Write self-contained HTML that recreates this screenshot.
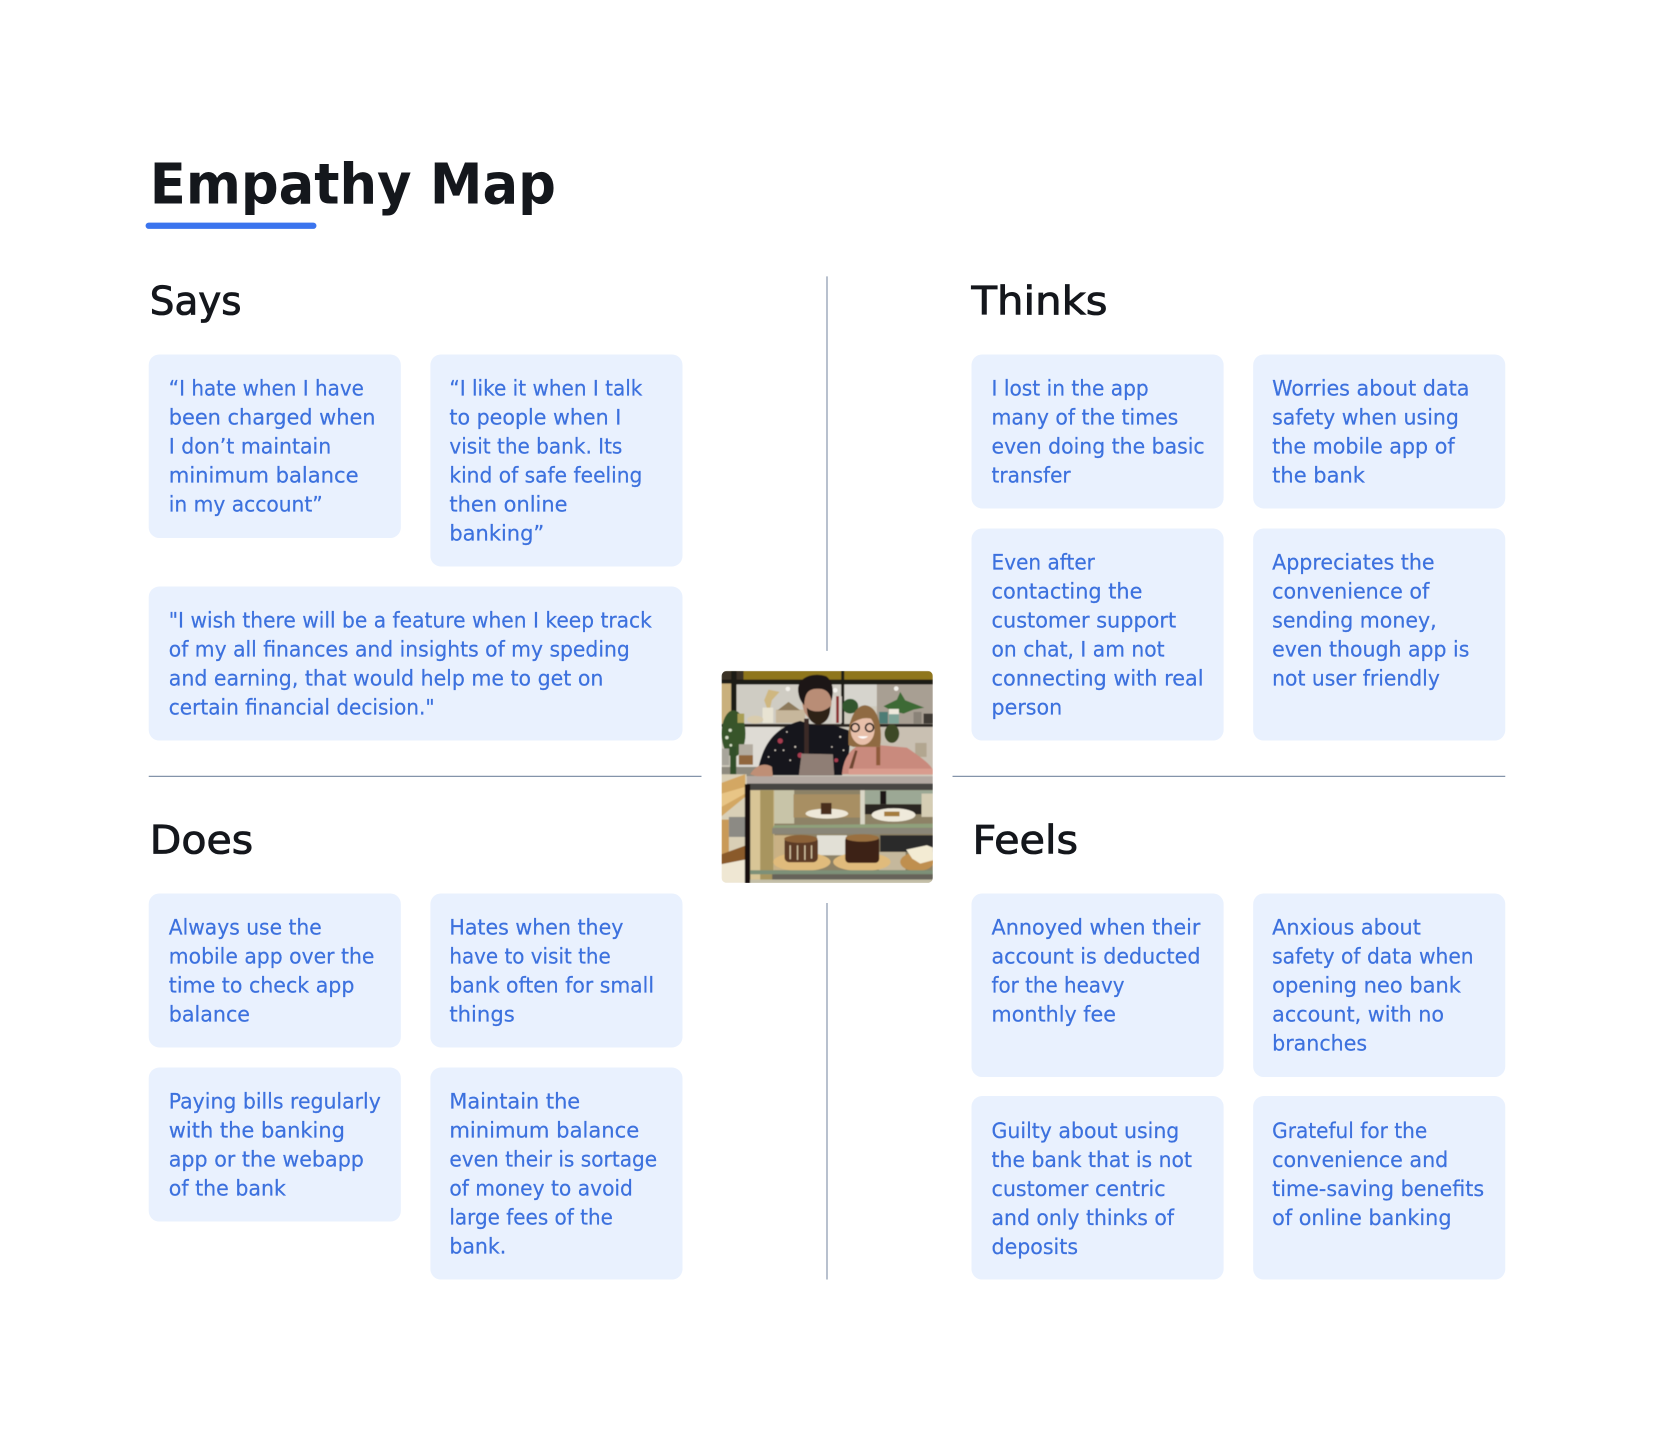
<!DOCTYPE html>
<html><head><meta charset="utf-8"><title>Empathy Map</title>
<style>
html,body{margin:0;padding:0;background:#fff;width:1654px;height:1430px;overflow:hidden}
svg.m{display:block;width:1654px;height:1430px}
.b text{font-family:"DejaVu Sans","Liberation Sans",sans-serif;font-size:20px;fill:#3c71de;stroke:#3c71de;stroke-width:.2}
.h{font-family:"DejaVu Sans","Liberation Sans",sans-serif;font-size:37px;fill:#14171c;stroke:#14171c;stroke-width:.8}
.t{font-family:"DejaVu Sans","Liberation Sans",sans-serif;font-size:53px;font-weight:700;fill:#14171c}
.c rect{fill:#e9f1fe}
</style></head><body>
<svg class="m" viewBox="0 0 1568 1355.6" xmlns="http://www.w3.org/2000/svg">
<defs>
<clipPath id="pc"><rect x="64" y="62" width="634" height="636" rx="16"/></clipPath>
<filter id="bl"><feGaussianBlur stdDeviation="1.6"/></filter>
</defs>
<rect width="1568" height="1356" fill="#fff"/>
<text class="t" x="142" y="193" textLength="385" lengthAdjust="spacingAndGlyphs">Empathy Map</text>
<rect x="138" y="211" width="162" height="6" rx="3" fill="#3b74ee"/>
<text class="h" x="142" y="298" textLength="87" lengthAdjust="spacingAndGlyphs">Says</text>
<text class="h" x="921" y="298" textLength="129" lengthAdjust="spacingAndGlyphs">Thinks</text>
<text class="h" x="142" y="809" textLength="98" lengthAdjust="spacingAndGlyphs">Does</text>
<text class="h" x="922" y="809" textLength="100" lengthAdjust="spacingAndGlyphs">Feels</text>
<g stroke="#8494aa" stroke-width="1.1">
<line x1="784" y1="262" x2="784" y2="617"/><line x1="784" y1="856" x2="784" y2="1213"/>
<line x1="141" y1="736" x2="665" y2="736"/><line x1="903" y1="736" x2="1427" y2="736"/>
</g>
<g class="c">
<rect x="141" y="336" width="239" height="174" rx="10"/>
<rect x="408" y="336" width="239" height="201" rx="10"/>
<rect x="141" y="556" width="506" height="146" rx="10"/>
<rect x="921" y="336" width="239" height="146" rx="10"/>
<rect x="1188" y="336" width="239" height="146" rx="10"/>
<rect x="921" y="501" width="239" height="201" rx="10"/>
<rect x="1188" y="501" width="239" height="201" rx="10"/>
<rect x="141" y="847" width="239" height="146" rx="10"/>
<rect x="408" y="847" width="239" height="146" rx="10"/>
<rect x="141" y="1012" width="239" height="146" rx="10"/>
<rect x="408" y="1012" width="239" height="201" rx="10"/>
<rect x="921" y="847" width="239" height="174" rx="10"/>
<rect x="1188" y="847" width="239" height="174" rx="10"/>
<rect x="921" y="1039" width="239" height="174" rx="10"/>
<rect x="1188" y="1039" width="239" height="174" rx="10"/>
</g>
<g class="b">
<text x="160" y="375" textLength="185" lengthAdjust="spacingAndGlyphs">“I hate when I have</text>
<text x="160" y="402.5" textLength="196" lengthAdjust="spacingAndGlyphs">been charged when</text>
<text x="160" y="430" textLength="154" lengthAdjust="spacingAndGlyphs">I don’t maintain</text>
<text x="160" y="457.5" textLength="180" lengthAdjust="spacingAndGlyphs">minimum balance</text>
<text x="160" y="485" textLength="146" lengthAdjust="spacingAndGlyphs">in my account”</text>

<text x="426" y="375" textLength="183" lengthAdjust="spacingAndGlyphs">“I like it when I talk</text>
<text x="426" y="402.5" textLength="163" lengthAdjust="spacingAndGlyphs">to people when I</text>
<text x="426" y="430" textLength="164" lengthAdjust="spacingAndGlyphs">visit the bank. Its</text>
<text x="426" y="457.5" textLength="183" lengthAdjust="spacingAndGlyphs">kind of safe feeling</text>
<text x="426" y="485" textLength="112" lengthAdjust="spacingAndGlyphs">then online</text>
<text x="426" y="512.5" textLength="90" lengthAdjust="spacingAndGlyphs">banking”</text>

<text x="160" y="595" textLength="458" lengthAdjust="spacingAndGlyphs">"I wish there will be a feature when I keep track</text>
<text x="160" y="622.5" textLength="437" lengthAdjust="spacingAndGlyphs">of my all finances and insights of my speding</text>
<text x="160" y="650" textLength="412" lengthAdjust="spacingAndGlyphs">and earning, that would help me to get on</text>
<text x="160" y="677.5" textLength="252" lengthAdjust="spacingAndGlyphs">certain financial decision."</text>

<text x="940" y="375" textLength="149" lengthAdjust="spacingAndGlyphs">I lost in the app</text>
<text x="940" y="402.5" textLength="177" lengthAdjust="spacingAndGlyphs">many of the times</text>
<text x="940" y="430" textLength="202" lengthAdjust="spacingAndGlyphs">even doing the basic</text>
<text x="940" y="457.5" textLength="75" lengthAdjust="spacingAndGlyphs">transfer</text>

<text x="1206" y="375" textLength="187" lengthAdjust="spacingAndGlyphs">Worries about data</text>
<text x="1206" y="402.5" textLength="177" lengthAdjust="spacingAndGlyphs">safety when using</text>
<text x="1206" y="430" textLength="173" lengthAdjust="spacingAndGlyphs">the mobile app of</text>
<text x="1206" y="457.5" textLength="88" lengthAdjust="spacingAndGlyphs">the bank</text>

<text x="940" y="540" textLength="98" lengthAdjust="spacingAndGlyphs">Even after</text>
<text x="940" y="567.5" textLength="143" lengthAdjust="spacingAndGlyphs">contacting the</text>
<text x="940" y="595" textLength="175" lengthAdjust="spacingAndGlyphs">customer support</text>
<text x="940" y="622.5" textLength="164" lengthAdjust="spacingAndGlyphs">on chat, I am not</text>
<text x="940" y="650" textLength="201" lengthAdjust="spacingAndGlyphs">connecting with real</text>
<text x="940" y="677.5" textLength="67" lengthAdjust="spacingAndGlyphs">person</text>

<text x="1206" y="540" textLength="154" lengthAdjust="spacingAndGlyphs">Appreciates the</text>
<text x="1206" y="567.5" textLength="149" lengthAdjust="spacingAndGlyphs">convenience of</text>
<text x="1206" y="595" textLength="156" lengthAdjust="spacingAndGlyphs">sending money,</text>
<text x="1206" y="622.5" textLength="187" lengthAdjust="spacingAndGlyphs">even though app is</text>
<text x="1206" y="650" textLength="159" lengthAdjust="spacingAndGlyphs">not user friendly</text>

<text x="160" y="886" textLength="145" lengthAdjust="spacingAndGlyphs">Always use the</text>
<text x="160" y="913.5" textLength="195" lengthAdjust="spacingAndGlyphs">mobile app over the</text>
<text x="160" y="941" textLength="176" lengthAdjust="spacingAndGlyphs">time to check app</text>
<text x="160" y="968.5" textLength="77" lengthAdjust="spacingAndGlyphs">balance</text>

<text x="426" y="886" textLength="165" lengthAdjust="spacingAndGlyphs">Hates when they</text>
<text x="426" y="913.5" textLength="153" lengthAdjust="spacingAndGlyphs">have to visit the</text>
<text x="426" y="941" textLength="194" lengthAdjust="spacingAndGlyphs">bank often for small</text>
<text x="426" y="968.5" textLength="62" lengthAdjust="spacingAndGlyphs">things</text>

<text x="160" y="1051" textLength="201" lengthAdjust="spacingAndGlyphs">Paying bills regularly</text>
<text x="160" y="1078.5" textLength="167" lengthAdjust="spacingAndGlyphs">with the banking</text>
<text x="160" y="1106" textLength="185" lengthAdjust="spacingAndGlyphs">app or the webapp</text>
<text x="160" y="1133.5" textLength="111" lengthAdjust="spacingAndGlyphs">of the bank</text>

<text x="426" y="1051" textLength="124" lengthAdjust="spacingAndGlyphs">Maintain the</text>
<text x="426" y="1078.5" textLength="180" lengthAdjust="spacingAndGlyphs">minimum balance</text>
<text x="426" y="1106" textLength="197" lengthAdjust="spacingAndGlyphs">even their is sortage</text>
<text x="426" y="1133.5" textLength="174" lengthAdjust="spacingAndGlyphs">of money to avoid</text>
<text x="426" y="1161" textLength="155" lengthAdjust="spacingAndGlyphs">large fees of the</text>
<text x="426" y="1188.5" textLength="54" lengthAdjust="spacingAndGlyphs">bank.</text>

<text x="940" y="886" textLength="198" lengthAdjust="spacingAndGlyphs">Annoyed when their</text>
<text x="940" y="913.5" textLength="198" lengthAdjust="spacingAndGlyphs">account is deducted</text>
<text x="940" y="941" textLength="126" lengthAdjust="spacingAndGlyphs">for the heavy</text>
<text x="940" y="968.5" textLength="118" lengthAdjust="spacingAndGlyphs">monthly fee</text>

<text x="1206" y="886" textLength="141" lengthAdjust="spacingAndGlyphs">Anxious about</text>
<text x="1206" y="913.5" textLength="191" lengthAdjust="spacingAndGlyphs">safety of data when</text>
<text x="1206" y="941" textLength="179" lengthAdjust="spacingAndGlyphs">opening neo bank</text>
<text x="1206" y="968.5" textLength="163" lengthAdjust="spacingAndGlyphs">account, with no</text>
<text x="1206" y="996" textLength="90" lengthAdjust="spacingAndGlyphs">branches</text>

<text x="940" y="1079" textLength="178" lengthAdjust="spacingAndGlyphs">Guilty about using</text>
<text x="940" y="1106.5" textLength="190" lengthAdjust="spacingAndGlyphs">the bank that is not</text>
<text x="940" y="1134" textLength="165" lengthAdjust="spacingAndGlyphs">customer centric</text>
<text x="940" y="1161.5" textLength="173" lengthAdjust="spacingAndGlyphs">and only thinks of</text>
<text x="940" y="1189" textLength="82" lengthAdjust="spacingAndGlyphs">deposits</text>

<text x="1206" y="1079" textLength="147" lengthAdjust="spacingAndGlyphs">Grateful for the</text>
<text x="1206" y="1106.5" textLength="167" lengthAdjust="spacingAndGlyphs">convenience and</text>
<text x="1206" y="1134" textLength="201" lengthAdjust="spacingAndGlyphs">time-saving benefits</text>
<text x="1206" y="1161.5" textLength="170" lengthAdjust="spacingAndGlyphs">of online banking</text>
</g>
<svg x="683.7" y="636" width="201" height="201" viewBox="64 62 634 636">
<g clip-path="url(#pc)"><g filter="url(#bl)">
<rect x="64" y="62" width="634" height="636" fill="#cfcabd"/>
<rect x="64" y="62" width="634" height="28" fill="#8f761f"/>
<rect x="64" y="62" width="66" height="28" fill="#3a3026"/>
<rect x="64" y="88" width="634" height="15" fill="#1f1b18"/>
<rect x="110" y="103" width="320" height="118" fill="#cfccc3"/>
<rect x="430" y="103" width="100" height="65" fill="#d6d4cd"/>
<rect x="530" y="103" width="168" height="118" fill="#a89f93"/>
<rect x="64" y="100" width="30" height="120" fill="#c9b07c"/>
<rect x="93" y="62" width="16" height="170" fill="#1e1a17"/>
<rect x="423" y="62" width="9" height="165" fill="#1e1a17"/>
<circle cx="263" cy="116" r="7" fill="#f4f2ec"/><circle cx="588" cy="115" r="7" fill="#f4f2ec"/><circle cx="405" cy="120" r="7" fill="#f4f2ec"/>
<rect x="64" y="221" width="634" height="9" fill="#2b2521"/>
<rect x="110" y="230" width="130" height="125" fill="#dedbd4"/>
<rect x="540" y="230" width="158" height="125" fill="#c9c0b2"/>
<rect x="64" y="350" width="130" height="28" fill="#8e8a7e"/>
<path d="M550 168 L590 148 L600 125 L615 150 L672 172 L640 178 L610 190 L575 182 Z" fill="#3c6a35"/>
<ellipse cx="450" cy="168" rx="24" ry="22" fill="#33572e"/>
<ellipse cx="575" cy="250" rx="22" ry="28" fill="#3c4a28"/>
<ellipse cx="100" cy="250" rx="36" ry="70" fill="#38552a"/>
<rect x="90" y="290" width="18" height="95" fill="#33502a"/>
<g fill="#d7e0c8"><circle cx="90" cy="240" r="5"/><circle cx="80" cy="262" r="5"/><circle cx="92" cy="285" r="4"/></g>
<rect x="112" y="190" width="20" height="28" fill="#a99f56"/>
<rect x="227" y="178" width="88" height="40" fill="#c7b79c"/>
<path d="M232 180 L265 155 L300 180 Z" fill="#8d7a5c"/>
<rect x="187" y="172" width="32" height="46" fill="#e8e3d2"/>
<path d="M192 150 L205 118 L238 125 L215 150 L210 172 L200 172 Z" fill="#cfb780"/>
<ellipse cx="165" cy="208" rx="24" ry="12" fill="#d9ccae"/>
<rect x="395" y="138" width="30" height="80" fill="#d8d0c8"/><rect x="408" y="138" width="8" height="80" fill="#8a3330"/>
<rect x="537" y="185" width="26" height="35" fill="#4e7b75"/>
<rect x="566" y="180" width="30" height="40" fill="#7fa598"/><rect x="566" y="176" width="30" height="16" fill="#eee9dc"/>
<rect x="640" y="185" width="24" height="35" fill="#8a8378"/><rect x="670" y="190" width="28" height="30" fill="#3f3a36"/>
<rect x="116" y="282" width="42" height="62" fill="#b3aca0"/><rect x="116" y="315" width="42" height="28" fill="#90663d"/>
<rect x="645" y="278" width="34" height="42" fill="#b2a690"/>
<rect x="65" y="295" width="22" height="50" fill="#a8a59b"/>
<path d="M170 375 C185 290 215 235 300 212 L340 225 L400 225 L445 240 C455 300 440 350 425 375 Z" fill="#16151a"/>
<g fill="#a83d50"><circle cx="240" cy="272" r="8"/><circle cx="300" cy="315" r="8"/><circle cx="408" cy="330" r="6"/></g>
<g fill="#d8d0c4"><circle cx="260" cy="245" r="2.5"/><circle cx="225" cy="300" r="2.5"/><circle cx="285" cy="290" r="3"/><circle cx="270" cy="330" r="2.5"/><circle cx="420" cy="260" r="3"/><circle cx="395" cy="290" r="2.5"/><circle cx="430" cy="300" r="2.5"/><circle cx="205" cy="320" r="2.5"/><circle cx="250" cy="300" r="2.5"/></g>
<rect x="312" y="205" width="14" height="110" fill="#3a2c28"/>
<path d="M304 310 L398 312 L402 375 L296 375 Z" fill="#8f7e75"/>
<ellipse cx="350" cy="152" rx="44" ry="62" fill="#b98d76"/>
<path d="M294 125 C288 80 340 65 378 78 C402 95 400 130 394 152 C388 120 370 114 345 116 C325 118 314 128 312 165 C300 152 296 140 294 125 Z" fill="#1e1613"/>
<path d="M320 172 C335 188 372 188 390 168 C392 205 372 222 355 222 C336 222 320 205 320 172 Z" fill="#2f2019"/>
<path d="M425 372 C430 320 455 292 480 285 L540 285 L620 292 C660 320 690 340 698 360 L698 372 Z" fill="#c98a7d"/>
<path d="M445 285 C440 200 470 165 495 165 C530 168 548 220 540 290 L520 290 L460 290 Z" fill="#8f6b42"/>
<ellipse cx="487" cy="238" rx="36" ry="46" fill="#e8c0aa"/>
<path d="M448 225 C452 185 515 172 530 218 C515 198 480 198 448 225 Z" fill="#8f6b42"/>
<g fill="none" stroke="#1a1615" stroke-width="5"><circle cx="465" cy="232" r="12"/><circle cx="508" cy="232" r="12"/></g>
<path d="M472 258 Q488 272 504 258 Z" fill="#fff"/>
<path d="M445 360 L465 300 L472 302 L455 365 Z" fill="#6e4733"/>
<rect x="528" y="290" width="12" height="55" fill="#8e5a3a"/>
<path d="M150 372 C165 345 195 335 215 350 L218 378 L190 385 Z" fill="#bf8f76"/>
<rect x="445" y="355" width="253" height="18" fill="#d99c8e"/>
<rect x="64" y="372" width="75" height="240" fill="#d9cfb6"/>
<path d="M64 398 L135 372 L135 440 L64 498 Z" fill="#d3a763"/>
<path d="M64 430 L135 410 L135 430 L64 470 Z" fill="#e8c586"/>
<rect x="64" y="508" width="22" height="110" fill="#c99a58"/>
<rect x="86" y="500" width="50" height="60" fill="#8c8a84"/>
<path d="M64 612 L135 586 L135 628 L64 642 Z" fill="#8a5a2c"/>
<path d="M64 642 L135 628 L135 698 L64 698 Z" fill="#efe7d3"/>
<rect x="140" y="378" width="558" height="22" fill="#b3a9a2"/>
<rect x="140" y="400" width="558" height="20" fill="#474442"/>
<rect x="150" y="420" width="548" height="280" fill="#8d8266"/>
<rect x="150" y="420" width="72" height="280" fill="#d8c596"/>
<rect x="180" y="420" width="40" height="280" fill="#a8955f"/>
<rect x="222" y="420" width="60" height="100" fill="#c8c4a8"/>
<rect x="280" y="432" width="205" height="70" fill="#a88f63"/>
<rect x="480" y="420" width="14" height="110" fill="#d9d6c6"/>
<rect x="494" y="420" width="204" height="42" fill="#9ca895"/>
<rect x="494" y="462" width="170" height="30" fill="#2c2722"/>
<rect x="664" y="430" width="34" height="70" fill="#d5cdb4"/>
<rect x="540" y="422" width="18" height="40" fill="#1a1816"/>
<rect x="222" y="555" width="60" height="105" fill="#c9b184"/>
<rect x="350" y="555" width="90" height="60" fill="#e2e0d6"/>
<rect x="540" y="555" width="158" height="50" fill="#2c2a2b"/>
<rect x="536" y="605" width="80" height="55" fill="#c5b89c"/>
<rect x="134" y="402" width="16" height="298" fill="#121110"/>
<ellipse cx="380" cy="490" rx="64" ry="15" fill="#eee8d8"/>
<rect x="362" y="458" width="32" height="34" fill="#4a2e1e"/>
<ellipse cx="580" cy="494" rx="66" ry="20" fill="#efeadb"/>
<rect x="552" y="484" width="46" height="14" fill="#a57b3e"/>
<path d="M222 525 L698 520 L698 533 L218 533 Z" fill="#8fa07c"/>
<rect x="216" y="533" width="482" height="18" fill="#8a8678"/>
<ellipse cx="305" cy="635" rx="86" ry="28" fill="#e0bb7c"/>
<ellipse cx="485" cy="635" rx="86" ry="28" fill="#e0bb7c"/>
<ellipse cx="650" cy="635" rx="50" ry="28" fill="#bf8f4f"/>
<rect x="253" y="560" width="100" height="76" rx="14" fill="#5b3b28"/>
<g fill="#d6c6a4"><rect x="268" y="585" width="4" height="42"/><rect x="290" y="585" width="4" height="44"/><rect x="312" y="585" width="4" height="44"/><rect x="332" y="585" width="4" height="40"/></g>
<ellipse cx="302" cy="566" rx="50" ry="12" fill="#8c6238"/>
<rect x="435" y="558" width="102" height="80" rx="12" fill="#3e2418"/>
<ellipse cx="486" cy="563" rx="50" ry="11" fill="#9a7040"/>
<path d="M618 598 L680 585 L698 592 L698 630 L660 640 L636 625 Z" fill="#f3ebd3"/>
<rect x="150" y="660" width="548" height="12" fill="#7d9078"/>
<rect x="216" y="672" width="482" height="16" fill="#66635a"/>
<rect x="150" y="688" width="548" height="12" fill="#c4bfa8"/>
</g></g>
</svg>
</svg>
</body></html>
